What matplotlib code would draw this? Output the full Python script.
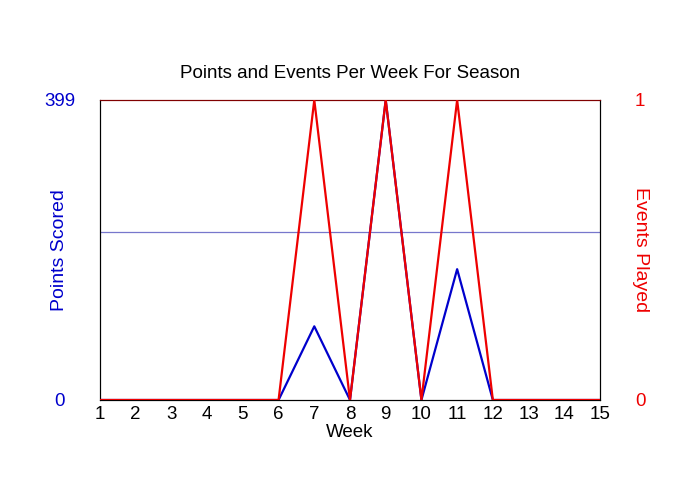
import numpy as np
import matplotlib
matplotlib.use("Agg")
import matplotlib.pyplot as plt

plt.rcParams['font.family'] = ['Liberation Sans', 'DejaVu Sans']

weeks = list(range(1, 16))
points = [0, 0, 0, 0, 0, 0, 98, 0, 399, 0, 174, 0, 0, 0, 0]
events = [0, 0, 0, 0, 0, 0, 1, 0, 1, 0, 1, 0, 0, 0, 0]

# average points over the weeks an event was played
played = [p for p, e in zip(points, events) if e > 0]
avg_points = np.mean(played)

fig = plt.figure(figsize=(7, 5), dpi=100)
ax = fig.add_axes([100/700, 0.2, 500/700, 0.6])
ax2 = ax.twinx()

ax.plot(weeks, points, color='#0000cc', lw=1.6, zorder=3)
ax.axhline(avg_points, color='#7777cc', lw=0.9, zorder=2)
ax2.plot(weeks, events, color='#ee0000', lw=1.6, zorder=4)

ax.set_xlim(1, 15)
ax.set_ylim(0, max(points))
ax2.set_ylim(0, 1)
ax.set_xticks(weeks)
ax.set_yticks([0, max(points)])
ax2.set_yticks([0, 1])

ax.tick_params(axis='x', length=0, labelsize=13.5, pad=4)
ax.tick_params(axis='y', length=0, labelsize=13.5, colors='#0000cc', pad=29)
ax2.tick_params(axis='y', length=0, labelsize=13.5, colors='#ee0000', pad=29)
for t in ax.get_yticklabels() + ax2.get_yticklabels():
    t.set_horizontalalignment('center')

ax.set_xlabel("Week", fontsize=13.5, labelpad=1)
ax.set_ylabel("Points Scored", fontsize=14, color='#0000cc', va='center')
ax.yaxis.set_label_coords(-0.08, 0.5)
ax2.set_ylabel("Events Played", fontsize=14, color='#ee0000', rotation=270, va='center')
ax2.yaxis.set_label_coords(1.08, 0.5)
ax.set_title("Points and Events Per Week For Season", fontsize=13.5, pad=16)

for a in (ax, ax2):
    for s in a.spines.values():
        s.set_color('black')
        s.set_linewidth(0.8)
    a.spines['top'].set_color('#800000')

fig.savefig("out.png", dpi=100)
